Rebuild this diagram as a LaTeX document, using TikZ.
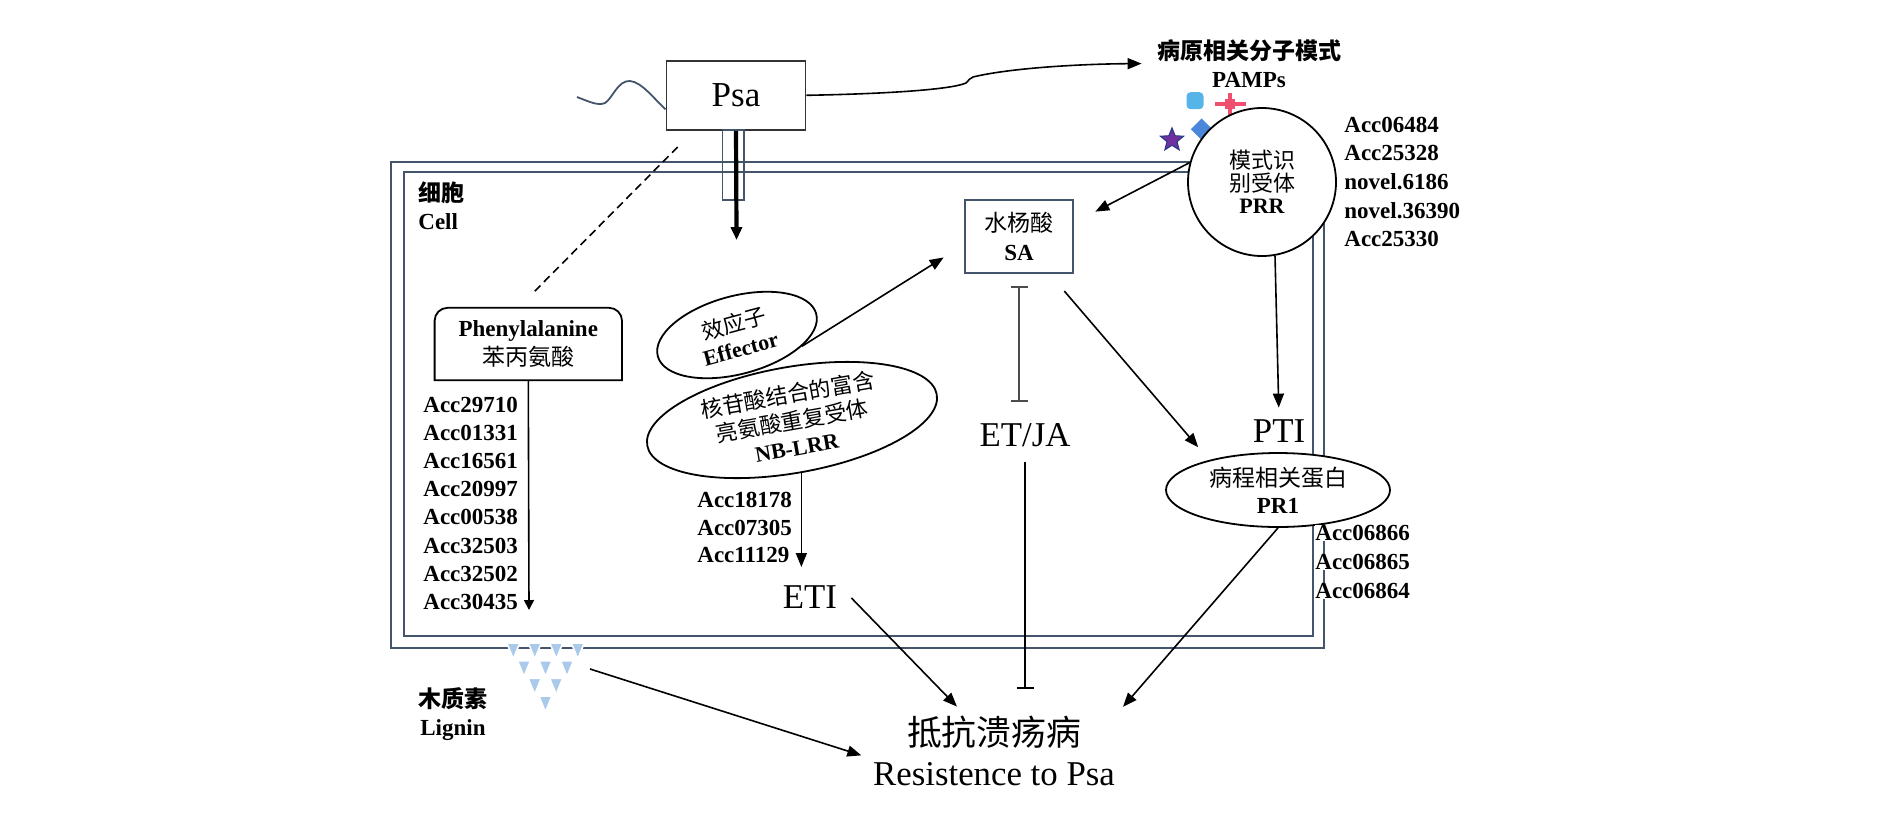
\documentclass[tikz,border=0pt]{standalone}
\usepackage{fontspec}
\setmainfont{Liberation Serif}
\newfontfamily\cjk{Noto Sans CJK SC}
\usetikzlibrary{arrows.meta,shapes.geometric,calc}
\newcommand\zh[1]{{\cjk\mdseries #1}}
\newcommand\zhb[1]{{\cjk\bfseries #1}}
\definecolor{cellblue}{RGB}{68,84,106}
\definecolor{sqblue}{RGB}{86,180,233}
\definecolor{diablue}{RGB}{74,134,218}
\definecolor{crossred}{RGB}{240,80,110}
\definecolor{starpurple}{RGB}{112,48,160}
\definecolor{stardark}{RGB}{47,60,140}
\definecolor{ligblue}{RGB}{170,202,236}

\begin{document}
\begin{tikzpicture}[x=0.5pt, y=-0.5pt,
   post/.style={-{Triangle[length=7pt,width=5.5pt]}, line width=0.8pt},
   inhib/.style={{Bar[width=8.5pt]}-{Bar[width=8.5pt]}, line width=0.8pt, black!70},
   inhibend/.style={-{Bar[width=8.5pt]}, line width=0.8pt},
   acc/.style={anchor=west, inner sep=0, font=\fontsize{11.5}{14}\selectfont\bfseries},
   txt/.style={align=center, inner sep=0, font=\fontsize{11.5}{14.3}\selectfont},
   big/.style={inner sep=0, text height=12pt, text depth=0pt, font=\fontsize{17.4}{20}\selectfont},
   cellline/.style={draw=cellblue, line width=1.1pt},
   bubble/.style={ellipse, draw, fill=white, line width=0.9pt}]

   \useasboundingbox (0,0) rectangle (1890,815);

   % cell
   \draw[cellline] (391,162) rectangle (1324,648);
   \draw[cellline] (404,172) rectangle (1313,636);
   \node[txt, anchor=north west, align=left] (vCell) at (418,181) {\zhb{细胞}\\\textbf{Cell}};

   % pathogen
   \node[draw=black!80, line width=0.9pt, fill=white, minimum width=69.5pt, minimum height=34.7pt,
      font=\fontsize{17.5}{20}\selectfont] (vPsa) at (736,95.3) {Psa};
   \coordinate (vTail) at (577,97);
   \draw[cellblue, line width=0.9pt] (vTail) .. controls (590,102) and (598,106) .. (605,103)
      .. controls (612,99) and (618,80) .. (630,81) .. controls (642,82) and (655,100) .. ([yshift=-7pt]vPsa.west);
   \draw[draw=cellblue, line width=0.7pt] (722.7,130) rectangle (744,200);

   % PAMPs
   \node[txt, inner sep=2pt] (vPAMPs) at (1249,63.5) {\zhb{病原相关分子模式}\\\textbf{PAMPs}};
   \draw[post, shorten >=5.5pt] (vPsa.east) .. controls (880,94) and (950,90) .. (966,83)
      .. controls (969,80) and (970,78) .. (973,77) .. controls (1010,68) and (1080,64) .. (vPAMPs.west);
   \node[fill=sqblue, rounded corners=2pt, minimum size=8.5pt, inner sep=0] (vSq) at (1195,100.7) {};
   \draw[crossred, line width=2pt] (1215,104) -- (1246,104);
   \draw[crossred, line width=2pt] (1230,93) -- (1230,115);
   \fill[crossred] (1225,99) rectangle (1235,109);
   \node[diamond, fill=diablue, minimum size=11pt, inner sep=0] (vDia) at (1201.7,129.3) {};
   \node[star, star points=5, star point ratio=2.3, fill=starpurple, draw=stardark, line width=0.6pt,
      minimum size=12pt, inner sep=0] (vStar) at (1172,140) {};

   % receptor
   \node[circle, draw, line width=0.9pt, fill=white, minimum size=74pt, txt,
      font=\fontsize{11}{11.3}\selectfont] (vPRR) at (1262,182) {\zh{模式识}\\\zh{别受体}\\\textbf{PRR}};
   \foreach \t [count=\i from 0] in {Acc06484,Acc25328,novel.6186,novel.36390,Acc25330}
     \node[acc] (p\i) at (1344, 125+28.4*\i) {\t};

   % salicylic acid
   \node[draw=cellblue, line width=1pt, minimum width=54pt, minimum height=36.7pt, txt] (vSA)
      at (1019,236.7) {\zh{水杨酸}\\\textbf{SA}};

   % effector / NB-LRR
   \node[bubble, rotate=10, minimum width=147pt, minimum height=53pt, inner sep=-3pt, align=center,
      font=\fontsize{11}{13.3}\selectfont] (vNB) at (792,420)
      {\zh{核苷酸结合的富含}\\\zh{亮氨酸重复受体}\\\textbf{NB-LRR}};
   \node[bubble, rotate=15, minimum width=82pt, minimum height=39pt, txt,
      font=\fontsize{11}{12.8}\selectfont] (vEff) at (737,335) {\zh{效应子}\\\textbf{Effector}};
   \draw[line width=2.1pt, -{Triangle[length=6.5pt,width=5.5pt]}, shorten >=27pt] (vPsa.south) -- (vEff);

   \foreach \t [count=\i from 0] in {Acc18178,Acc07305,Acc11129}
     \node[acc] (n\i) at (697, 500+27.5*\i) {\t};
   \node[big] (vETI) at (810,596) {ETI};
   \coordinate (nbEnd) at (vNB.south |- 0,567);
   \draw[post] (vNB.south) -- (nbEnd);

   % phenylalanine
   \node[txt, minimum width=93.3pt, minimum height=35.8pt] (vPhe) at (528.3,344) {\textbf{Phenylalanine}\\\zh{苯丙氨酸}};
   \draw[line width=0.9pt] (vPhe.south west) [rounded corners=6.5pt] -- (vPhe.north west) -- (vPhe.north east)
      [sharp corners] -- (vPhe.south east) -- cycle;
   \draw[dashed, dash pattern=on 4pt off 2.5pt, line width=0.8pt, shorten <=11.3pt, shorten >=11.3pt]
      ([xshift=14pt]vPsa.south west) -- ([xshift=-5pt]vPhe.north);
   \foreach \t [count=\i from 0] in {Acc29710,Acc01331,Acc16561,Acc20997,Acc00538,Acc32503,Acc32502,Acc30435}
     \node[acc] (a\i) at (423, 405+28.1*\i) {\t};
   \coordinate (pheEnd) at (529,610);
   \draw[post, -{Triangle[length=5pt,width=5pt]}] (vPhe.south) -- (pheEnd);

   % lignin
   \foreach \r [evaluate=\r as \n using int(3-\r)] in {0,...,3}
     \foreach \c in {0,...,\n}
       \filldraw[ligblue, draw=white, line width=0.8pt] ({506.8+21.5*\c+10.7*\r}, {643+17.7*\r}) -- ++(13,0) -- ++(-6.5,16) -- cycle;
   \coordinate (vLig) at (590,669);
   \node[txt] (vLigT) at (453,714) {\zhb{木质素}\\\textbf{Lignin}};

   % signalling
   \node[big] (vETJA) at (1025,434.5) {ET/JA};
   \node[big] (vPTI) at (1279,430) {PTI};
   \node[bubble, minimum width=112pt, minimum height=37pt, txt, font=\fontsize{11.5}{13.5}\selectfont]
      (vPR1) at (1278,490) {\zh{病程相关蛋白}\\\textbf{PR1}};
   \foreach \t [count=\i from 0] in {Acc06866,Acc06865,Acc06864}
     \node[acc, fill=white] (r\i) at (1315, 533+29*\i) {\t};

   \node[align=center, inner sep=0, font=\fontsize{17.4}{19.75}\selectfont] (vRes) at (994,751)
      {\zh{抵抗溃疡病}\\Resistence to Psa};

   \draw[post, shorten >=12pt] (vPRR.165) -- ([yshift=7pt]vSA.east);
   \draw[post, shorten >=12pt] (vEff.-25) -- ([yshift=-4pt]vSA.west);
   \draw[inhib, shorten <=6pt, shorten >=10.2pt] (vSA.south) -- (vSA.south |- vETJA.north);
   \draw[post, shorten <=11pt] ([xshift=-12pt]vSA.south east) -- ([yshift=8pt]vPR1.north west);
   \draw[post, shorten >=5pt] (vPRR.-80) -- (vPTI.north);
   \draw[inhibend, shorten <=7.7pt, shorten >=13.5pt] (vETJA.south) -- (vETJA.south |- vRes.north);
   \draw[post, shorten <=10pt, shorten >=6.5pt] (vETI.north east) -- ([xshift=-14pt]vRes.north);
   \draw[post, shorten >=6pt] (vPR1.south) -- (vRes.north east);
   \draw[post, shorten >=6pt] (vLig) -- ([yshift=-4pt]vRes.west);

\end{tikzpicture}
\end{document}
